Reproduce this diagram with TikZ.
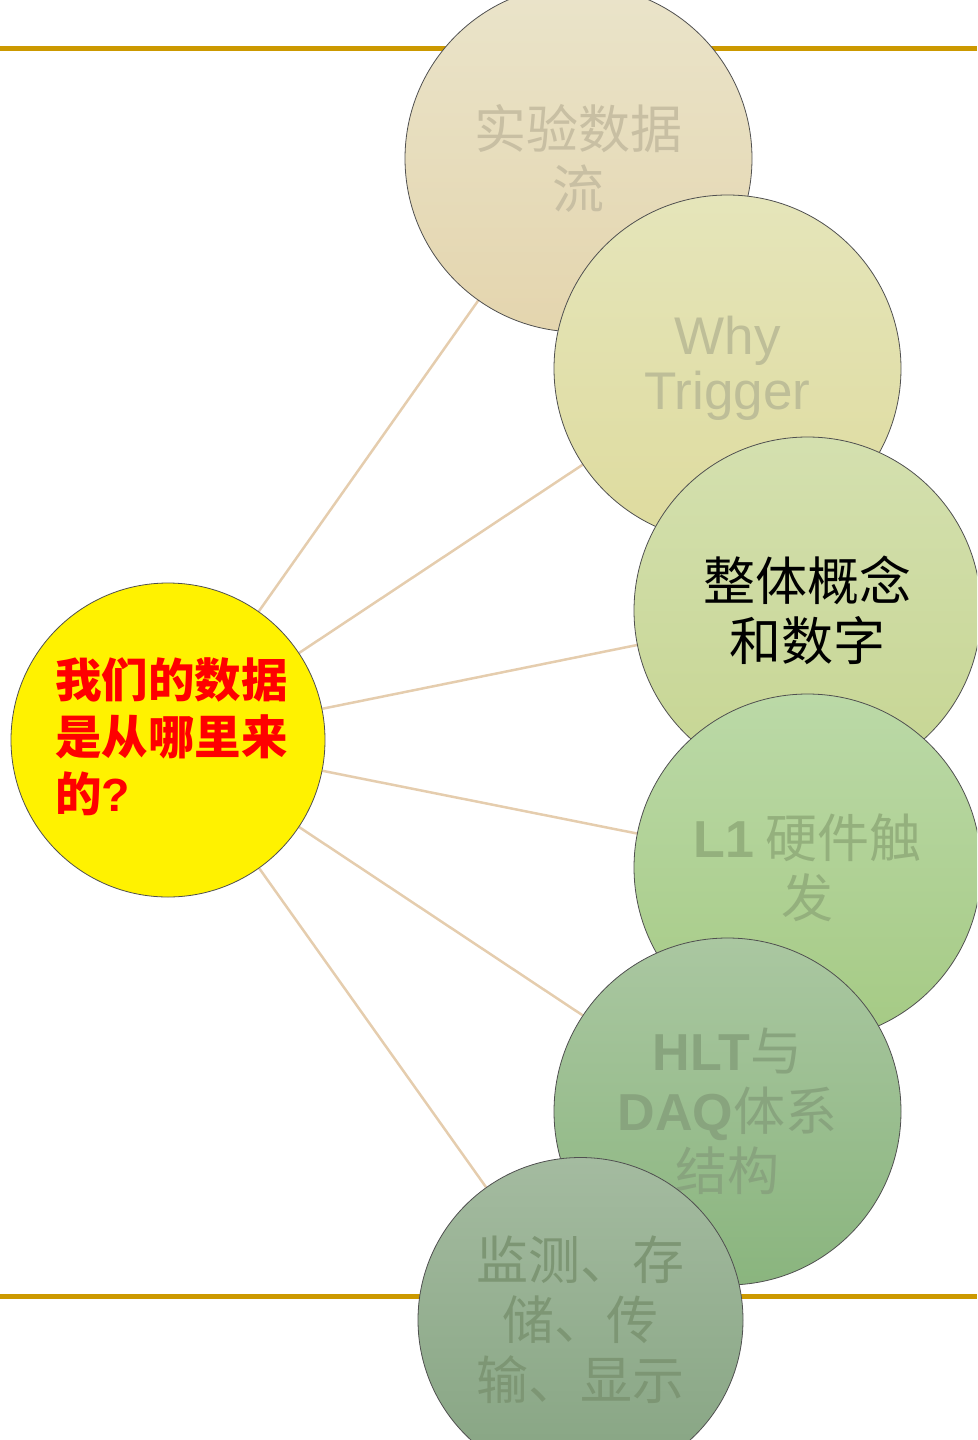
\documentclass[tikz,border=0pt]{standalone}
\usepackage{fontspec}
\setmainfont{Liberation Sans}
\newfontfamily\lat{Liberation Sans}
\newfontfamily\cjk{Noto Sans CJK SC}
\usetikzlibrary{backgrounds}
\definecolor{gold}{HTML}{CC9900}
\definecolor{link}{HTML}{E5CDAE}
\definecolor{rim}{HTML}{505050}
\definecolor{aT}{HTML}{EAE4CA}\definecolor{aB}{HTML}{E4D5AE}\definecolor{aX}{HTML}{C8BFA3}
\definecolor{bT}{HTML}{E5E5BA}\definecolor{bB}{HTML}{DEDB9E}\definecolor{bX}{HTML}{BEBE98}
\definecolor{cT}{HTML}{D4E0AF}\definecolor{cB}{HTML}{C6D592}
\definecolor{dT}{HTML}{BBD9A7}\definecolor{dB}{HTML}{A5CA84}\definecolor{dX}{HTML}{94B07D}
\definecolor{eT}{HTML}{AAC7A1}\definecolor{eB}{HTML}{8AB57E}\definecolor{eX}{HTML}{88A47E}
\definecolor{fT}{HTML}{A4BBA0}\definecolor{fB}{HTML}{86A482}\definecolor{fX}{HTML}{7D9674}
\tikzset{
  bub/.style={circle, draw=rim, line width=0.8pt, inner sep=0pt, align=center,
    font=\cjk\fontsize{52}{60}\selectfont},
  big/.style={bub, minimum size=347pt},
  conn/.style={draw=link, line width=2.5pt},
  rule/.style={draw=gold, line width=5pt}
}
\begin{document}
\begin{tikzpicture}[x=1pt,y=-1pt]
\useasboundingbox (0,0) rectangle (977,1440);
\clip (0,0) rectangle (977,1440);
\coordinate (r1a) at (0,48);
\coordinate (r1b) at (977,48);
\coordinate (r2a) at (0,1296);
\coordinate (r2b) at (977,1296);

\node[bub, minimum size=314pt, fill=yellow] (c) at (168,740) {};
\node[inner sep=0pt, anchor=west, align=left, text=red,
  font=\cjk\bfseries\fontsize{46.5}{57}\selectfont] (ct) at (55,737)
  {我们的数据\\是从哪里来\\的{\lat\bfseries ?}};

\node[big, top color=aT, bottom color=aB, text=aX] (o1) at (578.5,158.5)
  {实验数据\\流};
\node[big, top color=bT, bottom color=bB, text=bX,
  font=\lat\fontsize{53}{55}\selectfont] (o2) at (727.5,368.5)
  {Why\\Trigger};
\node[big, top color=cT, bottom color=cB, text=black] (o3) at (807.5,610.5)
  {整体概念\\和数字};
\node[big, top color=dT, bottom color=dB, text=dX] (o4) at (807.5,867.5)
  {{\lat\bfseries L1} 硬件触\\发};
\node[big, top color=eT, bottom color=eB, text=eX] (o5) at (727.5,1111.5)
  {{\lat\bfseries HLT}与\\{\lat\bfseries DAQ}体系\\结构};
\node[bub, minimum size=325pt, top color=fT, bottom color=fB, text=fX] (o6) at (580.5,1320)
  {监测、存\\储、传\\输、显示};

\begin{scope}[on background layer]
  \path[rule] (r1a) -- (r1b);
  \path[rule] (r2a) -- (r2b);
  \foreach \o in {o1,o2,o3,o4,o5,o6} {
    \path[conn] (c) -- (\o);
  }
\end{scope}
\end{tikzpicture}
\end{document}
